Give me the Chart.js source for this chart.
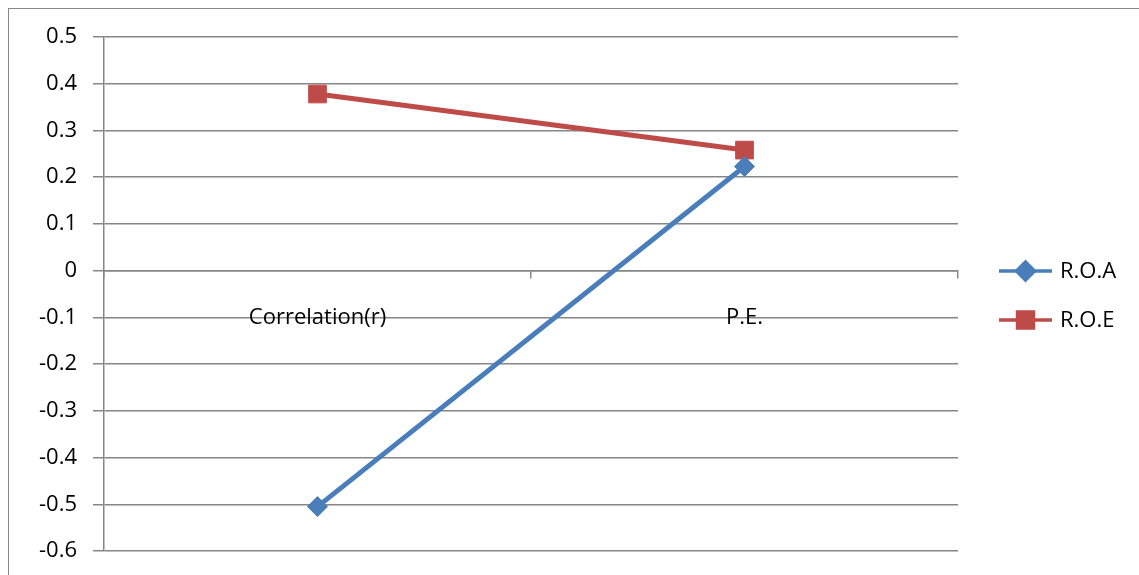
<!DOCTYPE html>
<html>
<head>
<meta charset="utf-8">
<script src="https://cdn.jsdelivr.net/npm/chart.js@4/dist/chart.umd.min.js"></script>
<style>
  html, body { margin: 0; padding: 0; background: #fff; }
  #wrap { width: 1139px; height: 575px; position: relative; }
</style>
</head>
<body>
<div id="wrap"><canvas id="c" width="1139" height="575"></canvas></div>
<script>
// Categories and series
const categories = ['Correlation(r)', 'P.E.'];
const roaValues = [-0.505, 0.223];
const roeValues = [0.378, 0.258];
const seriesNames = ['R.O.A', 'R.O.E'];

const FONT = '"Open Sans", "Liberation Sans", sans-serif';
const FONT_SIZE = 22;
const AXIS_GRAY = '#868686';

// Outer frame of the chart object
const framePlugin = {
  id: 'frame',
  beforeDraw(chart) {
    const ctx = chart.ctx;
    ctx.save();
    ctx.strokeStyle = '#8a8a8a';
    ctx.lineWidth = 1;
    ctx.strokeRect(8.5, 8.5, chart.width + 10, chart.height + 10);
    ctx.restore();
  }
};

// Legend on the right: short line with the series marker in the middle
const sideLegend = {
  id: 'sideLegend',
  afterDraw(chart) {
    const ctx = chart.ctx;
    const rows = [271, 320];
    chart.data.datasets.forEach((ds, i) => {
      const y = rows[i];
      ctx.save();
      ctx.strokeStyle = ds.borderColor;
      ctx.lineWidth = 3.5;
      ctx.beginPath();
      ctx.moveTo(999, y);
      ctx.lineTo(1052, y);
      ctx.stroke();
      ctx.fillStyle = ds.pointBackgroundColor;
      ctx.strokeStyle = ds.pointBorderColor;
      Chart.helpers.drawPoint(ctx, {
        pointStyle: ds.pointStyle,
        rotation: 0,
        radius: ds.pointRadius * 0.9,
        borderWidth: 1
      }, 1025.5, y);
      ctx.fillStyle = '#000';
      ctx.font = FONT_SIZE + 'px ' + FONT;
      ctx.textAlign = 'left';
      ctx.textBaseline = 'middle';
      ctx.fillText(ds.label, 1060, y + 1);
      ctx.restore();
    });
  }
};

new Chart(document.getElementById('c'), {
  type: 'line',
  data: {
    labels: categories,
    datasets: [
      {
        label: seriesNames[0],
        data: roaValues,
        borderColor: '#4A7EBB',
        borderWidth: 5,
        pointStyle: 'rectRot',
        pointRadius: 10,
        pointBackgroundColor: '#4A7EBB',
        pointBorderColor: '#4A7EBB',
        pointBorderWidth: 1,
        tension: 0
      },
      {
        label: seriesNames[1],
        data: roeValues,
        borderColor: '#BE4B48',
        borderWidth: 5,
        pointStyle: 'rect',
        pointRadius: 12.5,
        pointBackgroundColor: '#BE4B48',
        pointBorderColor: '#BE4B48',
        pointBorderWidth: 1,
        tension: 0
      }
    ]
  },
  options: {
    responsive: false,
    animation: false,
    layout: { padding: { left: 0, right: 181, top: 37, bottom: 24 } },
    plugins: {
      legend: { display: false },
      tooltip: { enabled: false }
    },
    scales: {
      x: {
        type: 'category',
        offset: true,
        position: { y: 0 },
        afterFit(scale) { scale.height = 0; },
        grid: {
          display: true,
          drawOnChartArea: false,
          drawTicks: true,
          tickLength: 7,
          offset: true,
          color: AXIS_GRAY,
          lineWidth: 1.5
        },
        border: { display: true, color: AXIS_GRAY, width: 1.5 },
        ticks: {
          color: '#000',
          padding: 27,
          maxRotation: 0,
          autoSkip: false,
          font: { family: FONT, size: FONT_SIZE }
        }
      },
      y: {
        min: -0.6,
        max: 0.5,
        afterFit(scale) {
          scale.width = 104;
          scale.paddingTop = 0;
          scale.paddingBottom = 0;
        },
        grid: {
          color: AXIS_GRAY,
          lineWidth: 1.5,
          drawTicks: true,
          tickLength: 11
        },
        border: { display: true, color: AXIS_GRAY, width: 1.5 },
        ticks: {
          stepSize: 0.1,
          padding: 16,
          color: '#000',
          font: { family: FONT, size: FONT_SIZE },
          callback: (v) => {
            const r = Math.round(v * 10) / 10;
            return r === 0 ? '0' : r.toString();
          }
        }
      }
    }
  },
  plugins: [framePlugin, sideLegend]
});
</script>
</body>
</html>
